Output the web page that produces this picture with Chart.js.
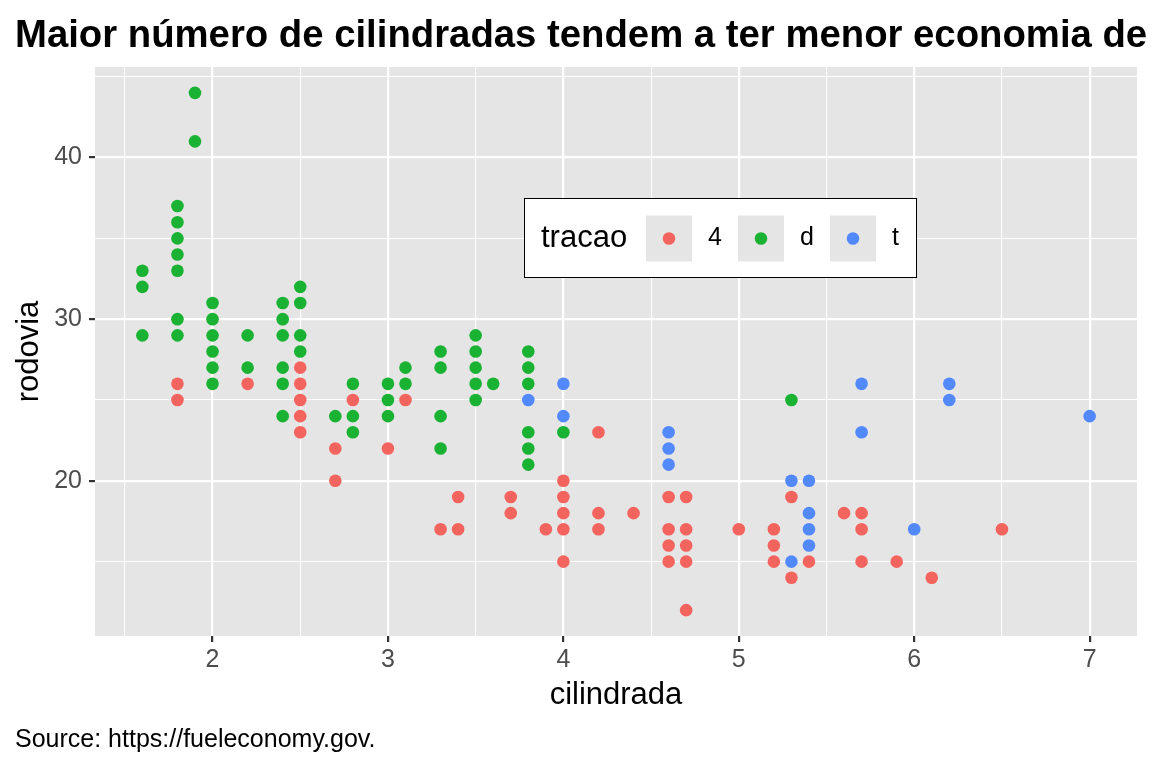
<!DOCTYPE html>
<html>
<head>
<meta charset="utf-8">
<title>rodovia x cilindrada</title>
<script src="https://cdn.jsdelivr.net/npm/chart.js@4.4.1/dist/chart.umd.min.js"></script>
<style>
  html, body { margin: 0; padding: 0; background: #fff; }
  canvas { display: block; }
</style>
</head>
<body>
<canvas id="mpgChart" width="1152" height="768"></canvas>
<script>
// tracao "4"
const cil4 = [1.8, 1.8, 2.2, 2.5, 2.5, 2.5, 2.5, 2.5, 2.7, 2.7, 2.8, 3.0, 3.1, 3.3, 3.4, 3.4, 3.7, 3.7, 3.9,
              4.0, 4.0, 4.0, 4.0, 4.0, 4.2, 4.2, 4.2, 4.4, 4.6, 4.6, 4.6, 4.6, 4.7, 4.7, 4.7, 4.7, 4.7,
              5.0, 5.2, 5.2, 5.2, 5.3, 5.3, 5.4, 5.6, 5.7, 5.7, 5.7, 5.9, 6.1, 6.5];
const rod4 = [26, 25, 26, 27, 26, 25, 24, 23, 22, 20, 25, 22, 25, 17, 19, 17, 19, 18, 17,
              20, 19, 18, 17, 15, 23, 18, 17, 18, 19, 17, 16, 15, 19, 17, 16, 15, 12,
              17, 17, 16, 15, 19, 14, 15, 18, 18, 17, 15, 15, 14, 17];
// tracao "d"
const cilD = [1.6, 1.6, 1.6, 1.8, 1.8, 1.8, 1.8, 1.8, 1.8, 1.8, 1.9, 1.9, 2.0, 2.0, 2.0, 2.0, 2.0, 2.0,
              2.2, 2.2, 2.4, 2.4, 2.4, 2.4, 2.4, 2.4, 2.5, 2.5, 2.5, 2.5, 2.7, 2.8, 2.8, 2.8,
              3.0, 3.0, 3.0, 3.1, 3.1, 3.3, 3.3, 3.3, 3.3, 3.5, 3.5, 3.5, 3.5, 3.5, 3.6,
              3.8, 3.8, 3.8, 3.8, 3.8, 3.8, 4.0, 5.3];
const rodD = [33, 32, 29, 37, 36, 35, 34, 33, 30, 29, 44, 41, 31, 30, 29, 28, 27, 26,
              29, 27, 31, 30, 29, 27, 26, 24, 32, 31, 29, 28, 24, 26, 24, 23,
              26, 25, 24, 27, 26, 28, 27, 24, 22, 29, 28, 27, 26, 25, 26,
              28, 27, 26, 23, 22, 21, 23, 25];
// tracao "t"
const cilT = [3.8, 4.0, 4.0, 4.6, 4.6, 4.6, 5.3, 5.3, 5.4, 5.4, 5.4, 5.4, 5.7, 5.7, 6.0, 6.2, 6.2, 7.0];
const rodT = [25, 26, 24, 23, 22, 21, 20, 15, 20, 18, 17, 16, 26, 23, 17, 26, 25, 24];

const tracaoLabels = ['4', 'd', 't'];
const tracaoColors = ['#F4645F', '#1AB233', '#5389FF'];
const xTicks = [1.5, 2, 2.5, 3, 3.5, 4, 4.5, 5, 5.5, 6, 6.5, 7];
const yTicks = [15, 20, 25, 30, 35, 40, 45];

const titleText = 'Maior número de cilindradas tendem a ter menor economia de';
const captionText = 'Source: https://fueleconomy.gov.';

const FONT = '"Liberation Sans", Arial, Helvetica, sans-serif';
const PANEL_GREY = '#E5E5E5';

function toPoints(xs, ys) {
    return xs.map((x, i) => ({ x: x, y: ys[i] }));
}

// grey panel behind the grid
const panelBg = {
    id: 'panelBg',
    beforeDraw(chart) {
        const { ctx, chartArea: a } = chart;
        ctx.save();
        ctx.fillStyle = PANEL_GREY;
        ctx.fillRect(a.left, a.top, a.right - a.left, a.bottom - a.top);
        ctx.restore();
    }
};

// title, caption and the legend sitting inside the panel
const extras = {
    id: 'extras',
    afterDraw(chart) {
        const ctx = chart.ctx;
        ctx.save();
        ctx.fillStyle = '#000';
        ctx.textAlign = 'left';
        ctx.textBaseline = 'alphabetic';
        ctx.font = 'bold 38.3px ' + FONT;
        ctx.fillText(titleText, 15, 47);
        ctx.font = '25px ' + FONT;
        ctx.textBaseline = 'middle';
        ctx.fillText(captionText, 15, 740);

        // legend box
        const bx = 524, by = 198, bw = 392, bh = 79;
        ctx.fillStyle = '#fff';
        ctx.fillRect(bx, by, bw, bh);
        ctx.strokeStyle = '#000';
        ctx.lineWidth = 1;
        ctx.strokeRect(bx + 0.5, by + 0.5, bw, bh);
        const cy = by + bh / 2 + 1;
        ctx.fillStyle = '#000';
        ctx.font = '31px ' + FONT;
        ctx.fillText('tracao', 541, cy);
        chart.data.datasets.forEach((ds, i) => {
            const kx = 646 + i * 92;
            ctx.fillStyle = PANEL_GREY;
            ctx.fillRect(kx, cy - 23, 46, 46);
            ctx.fillStyle = ds.backgroundColor;
            ctx.beginPath();
            ctx.arc(kx + 23, cy, 6.3, 0, Math.PI * 2);
            ctx.fill();
            ctx.fillStyle = '#000';
            ctx.font = '25px ' + FONT;
            ctx.fillText(ds.label, kx + 62, cy);
        });
        ctx.restore();
    }
};

const ctx = document.getElementById('mpgChart').getContext('2d');
const mpgChart = new Chart(ctx, {
    type: 'scatter',
    data: {
        datasets: [
            { label: tracaoLabels[0], data: toPoints(cil4, rod4), backgroundColor: tracaoColors[0] },
            { label: tracaoLabels[1], data: toPoints(cilD, rodD), backgroundColor: tracaoColors[1] },
            { label: tracaoLabels[2], data: toPoints(cilT, rodT), backgroundColor: tracaoColors[2] }
        ]
    },
    options: {
        responsive: false,
        animation: false,
        devicePixelRatio: 1,
        elements: { point: { radius: 6.3, borderWidth: 0, hoverRadius: 6.3 } },
        layout: { autoPadding: false, padding: { left: 0, right: 15, top: 67, bottom: 48 } },
        plugins: { legend: { display: false }, tooltip: { enabled: false }, title: { display: false } },
        scales: {
            x: {
                type: 'linear',
                min: 1.33, max: 7.27,
                afterBuildTicks: s => { s.ticks = xTicks.map(v => ({ value: v })); },
                afterFit: s => { s.height = 84; },
                border: { display: false },
                grid: {
                    color: '#FFFFFF',
                    lineWidth: c => Number.isInteger(c.tick.value) ? 2.2 : 1.1,
                    tickColor: c => Number.isInteger(c.tick.value) ? '#333333' : 'rgba(0,0,0,0)',
                    tickWidth: 2.2,
                    tickLength: 6
                },
                ticks: {
                    autoSkip: false, maxRotation: 0, padding: 3,
                    color: '#4D4D4D', font: { family: FONT, size: 25 },
                    callback: v => Number.isInteger(v) ? String(v) : ''
                },
                title: { display: true, text: 'cilindrada', color: '#000', font: { family: FONT, size: 31 }, padding: { top: 0, bottom: 6 } }
            },
            y: {
                type: 'linear',
                min: 10.4, max: 45.6,
                afterBuildTicks: s => { s.ticks = yTicks.map(v => ({ value: v })); },
                afterFit: s => { s.width = 95; },
                border: { display: false },
                grid: {
                    color: '#FFFFFF',
                    lineWidth: c => c.tick.value % 10 === 0 ? 2.2 : 1.1,
                    tickColor: c => c.tick.value % 10 === 0 ? '#333333' : 'rgba(0,0,0,0)',
                    tickWidth: 2.2,
                    tickLength: 6
                },
                ticks: {
                    autoSkip: false, padding: 7,
                    color: '#4D4D4D', font: { family: FONT, size: 25 },
                    callback: v => v % 10 === 0 ? String(v) : ''
                },
                title: { display: true, text: 'rodovia', color: '#000', font: { family: FONT, size: 31 }, padding: { top: 11, bottom: 0 } }
            }
        }
    },
    plugins: [panelBg, extras]
});
</script>
</body>
</html>
